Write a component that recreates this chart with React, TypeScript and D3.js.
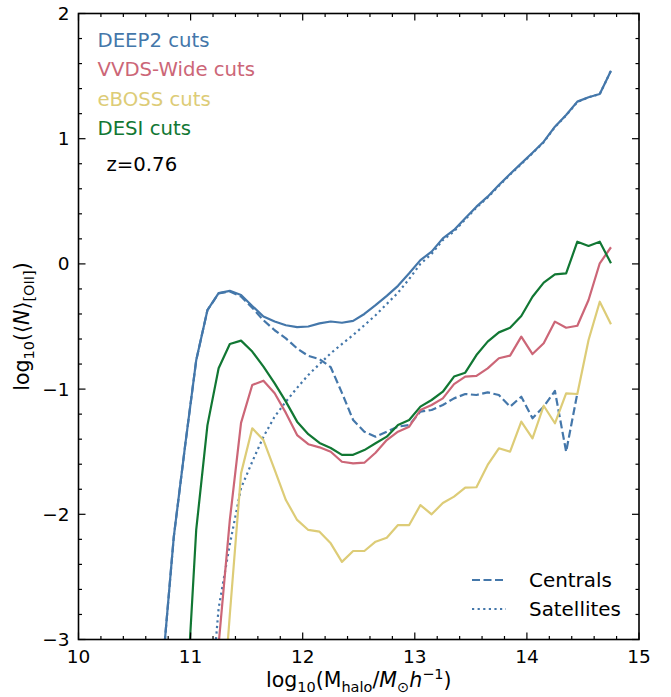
import React from "react";
import * as d3 from "d3";

const massBins = [10.75, 10.85, 10.95, 11.05, 11.15, 11.25, 11.35, 11.45, 11.55, 11.65, 11.75, 11.85, 11.95, 12.05, 12.15, 12.25, 12.35, 12.45, 12.55, 12.65, 12.75, 12.85, 12.95, 13.05, 13.15, 13.25, 13.35, 13.45, 13.55, 13.65, 13.75, 13.85, 13.95, 14.05, 14.15, 14.25, 14.35, 14.45, 14.55, 14.65, 14.75];

const deep2Total = [-3.22, -2.18, -1.46, -0.77, -0.37, -0.233, -0.215, -0.248, -0.336, -0.42, -0.46, -0.49, -0.505, -0.5, -0.475, -0.46, -0.47, -0.455, -0.4, -0.33, -0.255, -0.175, -0.075, 0.03, 0.098, 0.204, 0.271, 0.364, 0.457, 0.537, 0.63, 0.718, 0.803, 0.888, 0.976, 1.096, 1.189, 1.296, 1.331, 1.357, 1.543];

const deep2Centrals = [-3.22, -2.18, -1.46, -0.77, -0.37, -0.235, -0.22, -0.26, -0.35, -0.45, -0.53, -0.595, -0.675, -0.735, -0.76, -0.825, -1.03, -1.247, -1.34, -1.38, -1.34, -1.3, -1.287, -1.18, -1.167, -1.127, -1.074, -1.039, -1.047, -1.026, -1.047, -1.14, -1.061, -1.233, -1.14, -1.015, -1.5, -1.034, null, null, null];

const deep2Satellites = [null, null, null, null, -3.8, -2.75, -2.24, -1.79, -1.58, -1.38, -1.22, -1.1, -0.99, -0.887, -0.8, -0.714, -0.64, -0.568, -0.49, -0.41, -0.32, -0.23, -0.12, 0.0, 0.08, 0.19, 0.26, 0.355, 0.45, 0.53, 0.624, 0.713, 0.798, 0.884, 0.972, 1.093, 1.186, 1.293, 1.331, 1.357, 1.543];

const vvdsTotal = [null, null, null, null, -4.2, -3.04, -2.045, -1.27, -0.967, -0.933, -1.033, -1.19, -1.367, -1.44, -1.465, -1.5, -1.58, -1.593, -1.588, -1.508, -1.407, -1.34, -1.3, -1.167, -1.127, -1.074, -0.96, -0.9, -0.895, -0.834, -0.754, -0.733, -0.581, -0.72, -0.634, -0.461, -0.51, -0.494, -0.288, 0.005, 0.133];

const ebossTotal = [null, null, null, null, null, -4.0, -2.8, -1.673, -1.313, -1.407, -1.646, -1.886, -2.045, -2.125, -2.139, -2.232, -2.38, -2.293, -2.293, -2.219, -2.187, -2.086, -2.086, -1.926, -2.0, -1.91, -1.859, -1.787, -1.784, -1.606, -1.473, -1.5, -1.26, -1.393, -1.133, -1.273, -1.034, -1.039, -0.608, -0.302, -0.482];

const desiTotal = [null, null, -3.7, -2.125, -1.29, -0.834, -0.64, -0.613, -0.7, -0.82, -0.954, -1.1, -1.26, -1.36, -1.43, -1.47, -1.525, -1.525, -1.487, -1.433, -1.38, -1.287, -1.247, -1.14, -1.087, -1.021, -0.9, -0.869, -0.728, -0.621, -0.547, -0.51, -0.416, -0.262, -0.15, -0.083, -0.075, 0.177, 0.143, 0.177, 0.005];

const sampleLabels = ["DEEP2 cuts", "VVDS-Wide cuts", "eBOSS cuts", "DESI cuts"];
const sampleColors = ["#4477AA", "#CC6677", "#DDCC77", "#117733"];
const redshiftLabel = "z=0.76";
const componentLabels = ["Centrals", "Satellites"];

const xMajorTicks = [10, 11, 12, 13, 14, 15];
const yMajorTicks = [-3, -2, -1, 0, 1, 2];

const W = 671;
const H = 697;
const FONT = "'DejaVu Sans', sans-serif";

export default function App() {
  const x = d3.scaleLinear().domain([10, 15]).range([78.5, 639]);
  const y = d3.scaleLinear().domain([-3, 2]).range([639.5, 13.5]);
  const [x0, x1] = x.range();
  const [y0, y1] = y.range();

  const line = d3
    .line<[number, number | null]>()
    .defined((d) => d[1] !== null)
    .x((d) => x(d[0]))
    .y((d) => y(d[1] as number));

  const mk = (vals: (number | null)[]) =>
    line(massBins.map((m, i) => [m, vals[i]] as [number, number | null])) || "";

  const xMinor = d3.range(10, 15.0001, 0.2).filter((v) => Math.abs(v - Math.round(v)) > 1e-6);
  const yMinor = d3.range(-3, 2.0001, 0.2).filter((v) => Math.abs(v - Math.round(v)) > 1e-6);

  const majLen = 7;
  const minLen = 3.5;
  const fmt = (v: number) => (v < 0 ? "\u2212" + Math.abs(v) : String(v));

  const solidSeries = [
    { vals: deep2Total, color: sampleColors[0] },
    { vals: vvdsTotal, color: sampleColors[1] },
    { vals: ebossTotal, color: sampleColors[2] },
    { vals: desiTotal, color: sampleColors[3] },
  ];

  const labFs = 20.5;
  const subFs = 14.5;

  return (
    <svg
      width={W}
      height={H}
      viewBox={`0 0 ${W} ${H}`}
      style={{ position: "absolute", left: 0, top: 0, display: "block", background: "#fff" }}
      fontFamily={FONT}
    >
      <defs>
        <clipPath id="plotClip">
          <rect x={x0} y={y1} width={x1 - x0} height={y0 - y1} />
        </clipPath>
      </defs>
      <rect x={0} y={0} width={W} height={H} fill="#fff" />

      <g clipPath="url(#plotClip)" fill="none" strokeLinejoin="round">
        <path d={mk(deep2Centrals)} stroke={sampleColors[0]} strokeWidth={2.2} strokeDasharray="8 3.5" />
        <path d={mk(deep2Satellites)} stroke={sampleColors[0]} strokeWidth={2.2} strokeDasharray="2.2 3.4" />
        {solidSeries.map((s, i) => (
          <path key={i} d={mk(s.vals)} stroke={s.color} strokeWidth={2.2} />
        ))}
      </g>

      {/* ticks */}
      <g stroke="#000" strokeWidth={1.2}>
        {xMajorTicks.map((v) => (
          <g key={"xm" + v}>
            <line x1={x(v)} x2={x(v)} y1={y0} y2={y0 - majLen} />
            <line x1={x(v)} x2={x(v)} y1={y1} y2={y1 + majLen} />
          </g>
        ))}
        {xMinor.map((v, i) => (
          <g key={"xn" + i}>
            <line x1={x(v)} x2={x(v)} y1={y0} y2={y0 - minLen} />
            <line x1={x(v)} x2={x(v)} y1={y1} y2={y1 + minLen} />
          </g>
        ))}
        {yMajorTicks.map((v) => (
          <g key={"ym" + v}>
            <line x1={x0} x2={x0 + majLen} y1={y(v)} y2={y(v)} />
            <line x1={x1} x2={x1 - majLen} y1={y(v)} y2={y(v)} />
          </g>
        ))}
        {yMinor.map((v, i) => (
          <g key={"yn" + i}>
            <line x1={x0} x2={x0 + minLen} y1={y(v)} y2={y(v)} />
            <line x1={x1} x2={x1 - minLen} y1={y(v)} y2={y(v)} />
          </g>
        ))}
      </g>
      <rect x={x0} y={y1} width={x1 - x0} height={y0 - y1} fill="none" stroke="#000" strokeWidth={1.6} />

      {/* tick labels */}
      <g fontSize={18.5} fill="#000">
        {xMajorTicks.map((v) => (
          <text key={"xl" + v} x={x(v)} y={y0 + 23} textAnchor="middle">
            {fmt(v)}
          </text>
        ))}
        {yMajorTicks.map((v) => (
          <text key={"yl" + v} x={x0 - 9} y={y(v) + 6.5} textAnchor="end">
            {fmt(v)}
          </text>
        ))}
      </g>

      {/* axis labels */}
      <text x={(x0 + x1) / 2} y={687} textAnchor="middle" fontSize={labFs} fill="#000">
        <tspan>log</tspan>
        <tspan fontSize={subFs} dy={4.5}>10</tspan>
        <tspan dy={-4.5}>(M</tspan>
        <tspan fontSize={subFs} dy={4.5}>halo</tspan>
        <tspan dy={-4.5}>/</tspan>
        <tspan fontStyle="italic">M</tspan>
        <tspan fontSize={subFs} dy={4.5}>{"\u2299"}</tspan>
        <tspan dy={-4.5} fontStyle="italic">h</tspan>
        <tspan fontSize={subFs} dy={-8}>{"\u22121"}</tspan>
        <tspan dy={8}>)</tspan>
      </text>
      <text
        transform={`translate(29, ${(y0 + y1) / 2}) rotate(-90)`}
        textAnchor="middle"
        fontSize={labFs}
        fill="#000"
      >
        <tspan>log</tspan>
        <tspan fontSize={subFs} dy={4.5}>10</tspan>
        <tspan dy={-4.5}>({"\u27E8"}</tspan>
        <tspan fontStyle="italic">N</tspan>
        <tspan>{"\u27E9"}</tspan>
        <tspan fontSize={subFs} dy={4.5}>[OII]</tspan>
        <tspan dy={-4.5}>)</tspan>
      </text>

      {/* sample labels */}
      <g fontSize={19.7}>
        {sampleLabels.map((s, i) => (
          <text key={s} x={97.5} y={46.5 + i * 29.5} fill={sampleColors[i]}>
            {s}
          </text>
        ))}
        <text x={106.5} y={170.5} fill="#000">
          {redshiftLabel}
        </text>
      </g>

      {/* component legend */}
      <g>
        <line x1={472} x2={506} y1={580} y2={580} stroke={sampleColors[0]} strokeWidth={2.2} strokeDasharray="8 3.5" />
        <line x1={472} x2={506} y1={609} y2={609} stroke={sampleColors[0]} strokeWidth={2.2} strokeDasharray="2.2 3.4" />
        <text x={529} y={587} fontSize={19.9} fill="#000">
          {componentLabels[0]}
        </text>
        <text x={529} y={616} fontSize={19.9} fill="#000">
          {componentLabels[1]}
        </text>
      </g>
    </svg>
  );
}
